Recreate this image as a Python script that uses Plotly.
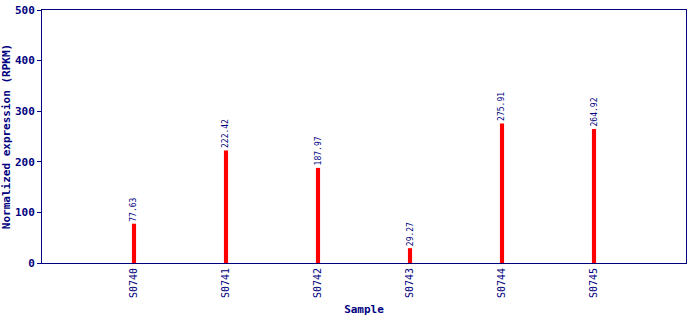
import plotly.graph_objects as go

samples = ["S0740", "S0741", "S0742", "S0743", "S0744", "S0745"]
values = [77.63, 222.42, 187.97, 29.27, 275.91, 264.92]
y_ticks = [0, 100, 200, 300, 400, 500]

navy = "#000080"
fig = go.Figure()
fig.add_trace(go.Bar(
    x=list(range(len(samples))), y=values,
    width=0.045,
    marker=dict(color="#ff0000", line=dict(width=0)),
))
for i, v in enumerate(values):
    fig.add_annotation(
        x=i, y=v, text=f"{v:.2f}", textangle=-90, showarrow=False,
        yanchor="bottom", xanchor="center", yshift=0,
        font=dict(family="DejaVu Sans Mono", size=8, color=navy),
    )
fig.update_layout(
    width=690, height=320,
    margin=dict(l=42, r=4, t=10, b=57),
    paper_bgcolor="white", plot_bgcolor="white",
    showlegend=False,
    font=dict(family="DejaVu Sans Mono", color=navy),
)
fig.update_xaxes(
    range=[-1, 6], tickvals=list(range(len(samples))), ticktext=samples,
    tickangle=-90, tickfont=dict(size=10, color=navy),
    showline=True, linecolor=navy, linewidth=1, mirror=True,
    showgrid=False, ticks="", zeroline=False,
    title=dict(text="<b>Sample</b>", font=dict(size=11, color=navy), standoff=8),
)
fig.update_yaxes(
    range=[0, 500], tickvals=y_ticks, ticktext=[f"<b>{t}</b>" for t in y_ticks],
    tickfont=dict(size=11, color=navy),
    showline=True, linecolor=navy, linewidth=1, mirror=True,
    showgrid=False, ticks="outside", ticklen=4, tickcolor=navy, zeroline=False,
    title=dict(text="<b>Normalized expression (RPKM)</b>", font=dict(size=11, color=navy), standoff=2),
)
fig.write_html("out.html")
